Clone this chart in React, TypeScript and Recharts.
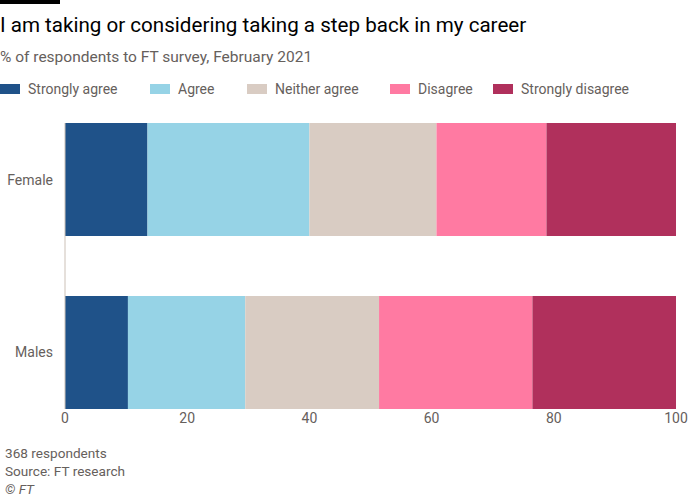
import { BarChart, Bar, XAxis, YAxis } from "recharts";

const categories = ["Female", "Males"];
const stronglyAgree = [13.5, 10.3];
const agree = [26.5, 19.2];
const neither = [20.8, 21.9];
const disagree = [18.0, 25.1];
const stronglyDisagree = [21.2, 23.5];
const xTicks = [0, 20, 40, 60, 80, 100];

const SERIES = [
  { key: "stronglyAgree", name: "Strongly agree", color: "#1f5289", left: 0 },
  { key: "agree", name: "Agree", color: "#96d3e6", left: 150 },
  { key: "neither", name: "Neither agree", color: "#d9ccc3", left: 247 },
  { key: "disagree", name: "Disagree", color: "#ff7aa2", left: 390 },
  { key: "stronglyDisagree", name: "Strongly disagree", color: "#b0305c", left: 493 },
];

const FONT = "Roboto, sans-serif";
const MUTED = "#66605c";

// numeric y axis in vertical layout runs top-down, so the index is the position
const rows = categories.map((name, i) => ({
  name,
  pos: i,
  stronglyAgree: stronglyAgree[i],
  agree: agree[i],
  neither: neither[i],
  disagree: disagree[i],
  stronglyDisagree: stronglyDisagree[i],
}));

const labelFor = (v: number) => categories[v] ?? "";

export default function App() {
  return (
    <div style={{ position: "fixed", top: 0, left: 0, width: 700, height: 496, background: "#fff", fontFamily: FONT, overflow: "hidden" }}>
      <div style={{ position: "absolute", top: 0, left: 0, width: 60, height: 4, background: "#000" }} />
      <div style={{ position: "absolute", top: 13, left: 0, fontSize: 20.6, color: "#000", whiteSpace: "nowrap" }}>
        I am taking or considering taking a step back in my career
      </div>
      <div style={{ position: "absolute", top: 48, left: 0, fontSize: 15.5, color: MUTED, whiteSpace: "nowrap" }}>
        % of respondents to FT survey, February 2021
      </div>

      {SERIES.map((s) => (
        <div key={s.key} style={{ position: "absolute", top: 79, left: s.left, display: "flex", alignItems: "center", whiteSpace: "nowrap" }}>
          <span style={{ width: 20, height: 10, background: s.color, marginRight: 8 }} />
          <span style={{ fontSize: 14, color: MUTED, lineHeight: "20px" }}>{s.name}</span>
        </div>
      ))}

      <div style={{ position: "absolute", top: 0, left: 0 }}>
        <BarChart width={700} height={430} data={rows} layout="vertical" margin={{ top: 123, right: 24, bottom: 0, left: 0 }}>
          <XAxis
            type="number"
            domain={[0, 100]}
            ticks={xTicks}
            axisLine={false}
            tickLine={false}
            tickSize={0}
            tickMargin={4}
            height={21}
            tick={{ fill: MUTED, fontSize: 14, fontFamily: FONT }}
          />
          <YAxis
            type="number"
            dataKey="pos"
            domain={[-0.327, 1.327]}
            ticks={[0, 1]}
            tickFormatter={labelFor}
            width={65}
            axisLine={{ stroke: "#ccc1b7" }}
            tickLine={false}
            tickSize={0}
            tickMargin={12}
            tick={{ fill: MUTED, fontSize: 14, fontFamily: FONT }}
          />
          {SERIES.map((s) => (
            <Bar key={s.key} dataKey={s.key} name={s.name} stackId="a" fill={s.color} barSize={113} isAnimationActive={false} />
          ))}
        </BarChart>
      </div>

      <div style={{ position: "absolute", top: 444, left: 5, fontSize: 13.6, color: MUTED, lineHeight: "18px" }}>
        <div>368 respondents</div>
        <div>Source: FT research</div>
        <div style={{ fontStyle: "italic" }}>© FT</div>
      </div>
    </div>
  );
}
